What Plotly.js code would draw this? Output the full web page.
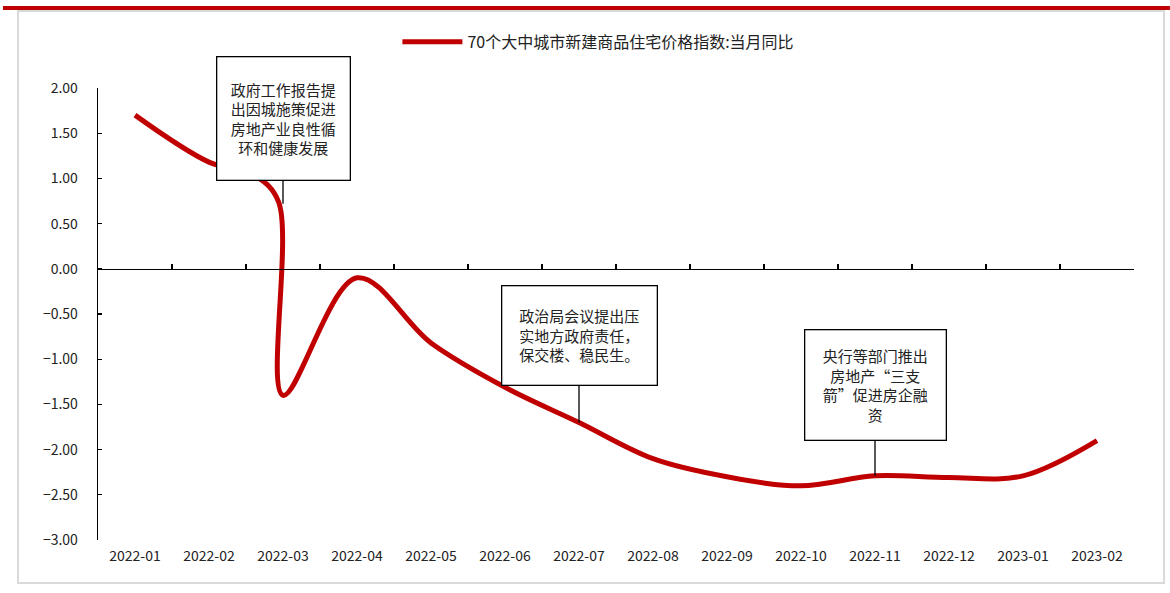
<!DOCTYPE html>
<html>
<head>
<meta charset="utf-8">
<script src="https://cdn.plot.ly/plotly-3.0.1.min.js"></script>
<style>
  html, body { margin: 0; padding: 0; background: #ffffff; }
  #chart { width: 1170px; height: 593px; }
</style>
</head>
<body>
<div id="chart"></div>
<script>
// ---- data ----
const months = ['2022-01','2022-02','2022-03','2022-04','2022-05','2022-06','2022-07',
                '2022-08','2022-09','2022-10','2022-11','2022-12','2023-01','2023-02'];
// position along the month axis (0 = 2022-01) and value of each read point of the curve
const curvePos   = [0, 1, 1.62, 1.94, 2, 3, 4, 5, 6, 7, 8, 9, 10, 11, 12, 13];
const curveValue = [1.70, 1.18, 1.03, 0.74, -1.40, -0.10, -0.82, -1.31, -1.70, -2.10, -2.30, -2.40, -2.29, -2.31, -2.29, -1.90];
const seriesName = '70个大中城市新建商品住宅价格指数:当月同比';
const yTicks = [2, 1.5, 1, 0.5, 0, -0.5, -1, -1.5, -2, -2.5, -3];

const notes = [
  { pos: 2,  value: 0.72,  text: '政府工作报告提<br>出因城施策促进<br>房地产业良性循<br>环和健康发展', w: 130, h: 120, ay: -85 },
  { pos: 6,  value: -1.70, text: '政治局会议提出压<br>实地方政府责任，<br>保交楼、稳民生。', w: 152, h: 96, ay: -87 },
  { pos: 10, value: -2.29, text: '央行等部门推出<br>房地产“三支<br>箭”促进房企融<br>资', w: 138, h: 107, ay: -91 }
];

const RED = '#C00000';
const FONT = '"Noto Sans CJK SC", "Noto Sans", sans-serif';
const boundaries = months.map((m, i) => i - 0.5).concat([months.length - 0.5]);

const traces = [
  {
    x: curvePos, y: curveValue, name: seriesName,
    type: 'scatter', mode: 'lines',
    line: { color: RED, width: 5, shape: 'spline', smoothing: 1 },
    xaxis: 'x', yaxis: 'y', showlegend: true, hoverinfo: 'y'
  },
  {
    x: curvePos, y: curveValue, type: 'scatter', mode: 'none',
    xaxis: 'x2', yaxis: 'y', showlegend: false, hoverinfo: 'skip'
  }
];

const layout = {
  width: 1170, height: 593,
  margin: { l: 98, r: 36, t: 88, b: 53 },
  paper_bgcolor: '#ffffff', plot_bgcolor: '#ffffff',
  font: { family: FONT, size: 14, color: '#222' },
  showlegend: true,
  legend: {
    orientation: 'h', x: 0.289, xanchor: 'left', y: 1.102, yanchor: 'middle',
    font: { family: FONT, size: 16, color: '#222' },
    itemwidth: 60, bgcolor: 'rgba(0,0,0,0)'
  },
  xaxis: {
    range: [-0.5, months.length - 0.5],
    tickvals: months.map((m, i) => i), ticktext: months,
    showline: false, showgrid: false, zeroline: false, ticks: '',
    ticklabelstandoff: 6,
    tickfont: { family: FONT, size: 14, color: '#222' }
  },
  xaxis2: {
    overlaying: 'x', matches: 'x', anchor: 'free', position: 0.6,
    range: [-0.5, months.length - 0.5],
    tickvals: boundaries, showticklabels: false,
    showline: true, linecolor: '#000', linewidth: 1.3,
    ticks: 'inside', ticklen: 5, tickcolor: '#000', tickwidth: 1.3,
    showgrid: false, zeroline: false
  },
  yaxis: {
    range: [-3, 2], tickvals: yTicks, tickformat: '.2f',
    showline: true, linecolor: '#000', linewidth: 1.3,
    ticks: 'inside', ticklen: 4, tickcolor: '#000', tickwidth: 1.3,
    showgrid: false, zeroline: false,
    ticklabelstandoff: 16,
    tickfont: { family: FONT, size: 14, color: '#222' }
  },
  shapes: [
    { type: 'rect', xref: 'paper', yref: 'paper', x0: -0.0917, x1: 1.0347, y0: 1.1726, y1: 1.1814,
      fillcolor: RED, line: { width: 0 }, layer: 'above' },
    { type: 'rect', xref: 'paper', yref: 'paper', x0: -0.0772, x1: 1.0290, y0: -0.0951, y1: 1.1704,
      fillcolor: 'rgba(0,0,0,0)', line: { color: '#d9d9d9', width: 2 }, layer: 'below' }
  ],
  annotations: notes.map(n => ({
    x: n.pos, y: n.value, xref: 'x', yref: 'y',
    text: n.text, showarrow: true, arrowhead: 0, arrowwidth: 1.3, arrowcolor: '#000',
    ax: 0, ay: n.ay, standoff: 0, startstandoff: 0,
    width: n.w, height: n.h, align: 'center', valign: 'middle',
    bgcolor: '#ffffff', bordercolor: '#000', borderwidth: 1.3, borderpad: 1,
    font: { family: FONT, size: 15, color: '#222' }
  }))
};

Plotly.newPlot('chart', traces, layout, { displayModeBar: false, staticPlot: true });
</script>
</body>
</html>
